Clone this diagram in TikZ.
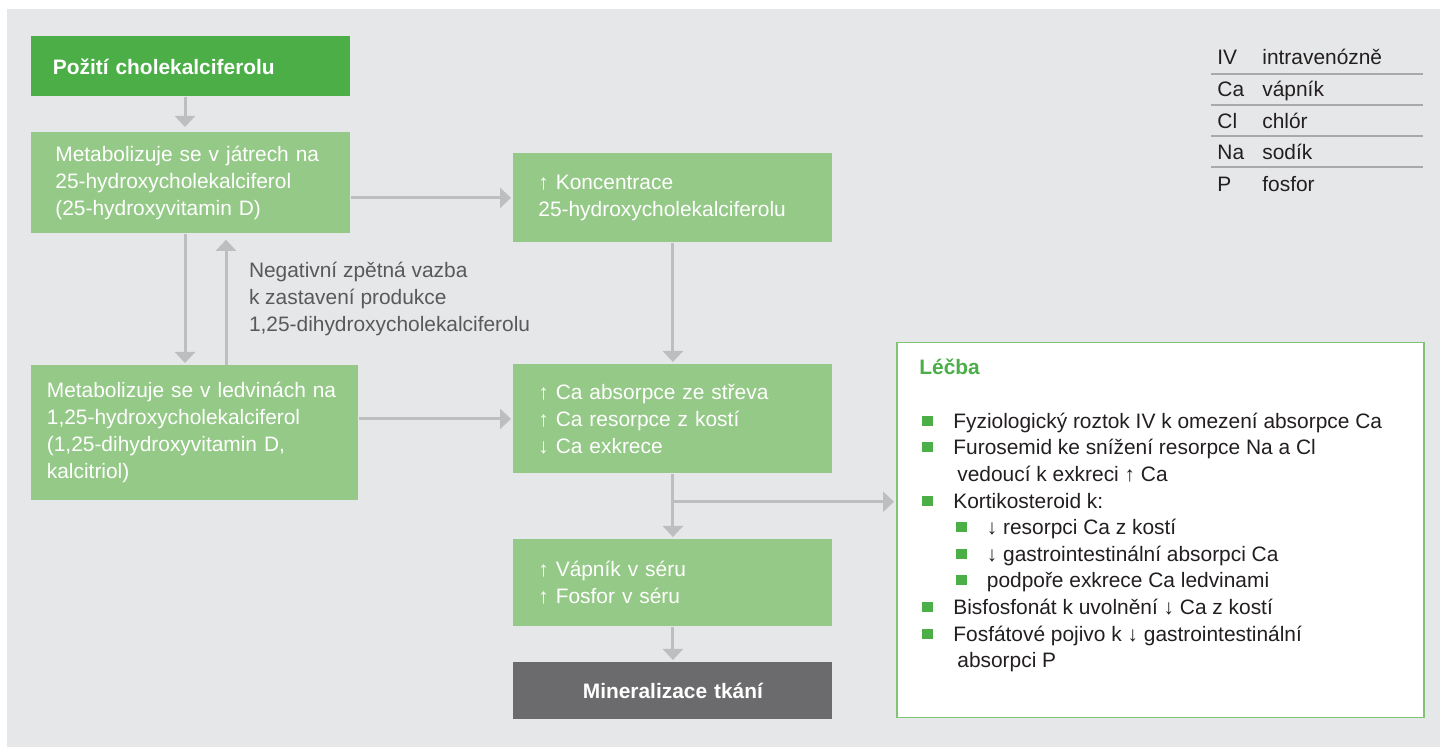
\documentclass[tikz,border=0pt]{standalone}
\usepackage{fontspec}
\setmainfont{Liberation Sans}
\usepackage{tikz}
\usetikzlibrary{positioning, arrows.meta, calc}
\definecolor{bggrey}{HTML}{E6E7E8}
\definecolor{leafgreen}{HTML}{4BAE47}
\definecolor{palegreen}{HTML}{95C987}
\definecolor{slate}{HTML}{6B6B6D}
\definecolor{arrowgrey}{HTML}{BDBEC0}
\definecolor{notegrey}{HTML}{58595B}
\definecolor{inkdark}{HTML}{231F20}
\definecolor{rulegrey}{HTML}{A7A9AC}
\definecolor{treatframe}{HTML}{82C274}
\newcommand{\bodysize}{\fontsize{10.45pt}{13.5pt}\selectfont}

\begin{document}
\begin{tikzpicture}[
    x=0.5pt, y=-0.5pt,
    stage/.style={rectangle, anchor=north west, fill=palegreen, text=white, align=left,
                  minimum width=159.5pt, inner xsep=12.5pt, inner ysep=0pt, font=\bodysize},
    keystage/.style={stage, fill=leafgreen, font=\bodysize\bfseries},
    endstage/.style={stage, fill=slate, font=\bodysize\bfseries, align=center},
    flow/.style={-{Triangle[width=10pt, length=5.5pt]}, line width=1.5pt, draw=arrowgrey, shorten >=1pt},
    entry/.style={anchor=west, inner sep=0pt, text height=7.5pt, text depth=0pt, font=\bodysize, text=inkdark},
    sq/.style={anchor=west, fill=leafgreen, inner sep=0pt, minimum width=5.5pt, minimum height=5pt},
]
% Background
\useasboundingbox (0,0) rectangle (1440,747);
\fill[bggrey] (7,9) rectangle (1440,747);

% Pathway
\node[keystage, text width=138pt, inner xsep=10.75pt, minimum height=30pt] (ingest) at (31,36) {Požití cholekalciferolu};
\node[stage, text width=135.5pt, inner xsep=12pt, minimum height=50.5pt] (liver) at (31,132) {Metabolizuje se v játrech na\\25-hydroxycholekalciferol\\(25-hydroxyvitamin D)};
\node[stage, text width=148pt, inner xsep=7.75pt, minimum height=67.5pt] (kidney) at (31,365) {Metabolizuje se v ledvinách na\\1,25-hydroxycholekalciferol\\(1,25-dihydroxyvitamin D,\\kalcitriol)};
\node[stage, text width=134.5pt, minimum height=44.5pt] (conc) at (513,153) {↑ Koncentrace\\25-hydroxycholekalciferolu};
\node[stage, text width=134.5pt, minimum height=54.5pt] (absorb) at (513,364) {↑ Ca absorpce ze střeva\\↑ Ca resorpce z kostí\\↓ Ca exkrece};
\node[stage, text width=134.5pt, minimum height=43.5pt] (serum) at (513,539) {↑ Vápník v séru\\↑ Fosfor v séru};
\node[endstage, text width=134.5pt, minimum height=28.5pt] (mineral) at (513,662) {Mineralizace tkání};

% Treatment panel
\node[rectangle, anchor=north west, draw=treatframe, line width=0.75pt, fill=white,
      minimum width=263.5pt, minimum height=187.5pt] (treat) at (896,342) {};
\node[entry, font=\bodysize\bfseries, text=leafgreen] (treatTitle) at (919,367) {Léčba};
\node[sq] (b1) at (922,421) {};   \node[entry] (t1) at (953,421) {Fyziologický roztok IV k omezení absorpce Ca};
\node[sq] (b2) at (922,447.5) {}; \node[entry] (t2) at (953,447.5) {Furosemid ke snížení resorpce Na a Cl};
                                  \node[entry] (t2b) at (957,474) {vedoucí k exkreci ↑ Ca};
\node[sq] (b3) at (922,501) {};   \node[entry] (t3) at (953,501) {Kortikosteroid k:};
\node[sq] (b3a) at (956,527.5) {}; \node[entry] (t3a) at (986.5,527.5) {↓ resorpci Ca z kostí};
\node[sq] (b3b) at (956,554) {};   \node[entry] (t3b) at (986.5,554) {↓ gastrointestinální absorpci Ca};
\node[sq] (b3c) at (956,580.5) {}; \node[entry] (t3c) at (986.5,580.5) {podpoře exkrece Ca ledvinami};
\node[sq] (b4) at (922,607) {};   \node[entry] (t4) at (953,607) {Bisfosfonát k uvolnění ↓ Ca z kostí};
\node[sq] (b5) at (922,634) {};   \node[entry] (t5) at (953,634) {Fosfátové pojivo k ↓ gastrointestinální};
                                  \node[entry] (t5b) at (957,660.5) {absorpci P};

% Abbreviations
\foreach \abbr/\full [count=\i] in {IV/intravenózně, Ca/vápník, Cl/chlór, Na/sodík, P/fosfor}{
  \node[entry] (abbr\i) at (1217,{57+31.8*(\i-1)}) {\abbr};
  \node[entry] (full\i) at (1262,{57+31.8*(\i-1)}) {\full};
}
\foreach \i in {1,...,4}
  \draw[rulegrey, line width=0.75pt] (1211,{74+31*(\i-1)}) -- (1423,{74+31*(\i-1)});

% Connectors
\coordinate (downx) at (185,0);
\coordinate (upx) at (226,0);
\coordinate (fork) at ($(absorb.south)+(0,28)$);
\draw[flow, shorten >=2.5pt] (ingest.south -| downx) -- (liver.north -| downx);
\draw[flow] (liver.east |- conc.west) -- (conc.west);
\draw[flow] (liver.south -| downx) -- (kidney.north -| downx);
\draw[flow, shorten >=3pt] (kidney.north -| upx) -- (liver.south -| upx)
  node[midway, right=10.75pt, inner sep=0pt, align=left, font=\bodysize, text=notegrey] (feedback)
  {Negativní zpětná vazba\\k zastavení produkce\\1,25-dihydroxycholekalciferolu};
\draw[flow] (kidney.east |- absorb.west) -- (absorb.west);
\draw[flow] (conc) -- (absorb);
\draw[flow] (absorb) -- (serum);
\draw[flow] (serum) -- (mineral);
\draw[flow] (fork) -- (fork -| treat.west);
\end{tikzpicture}
\end{document}
